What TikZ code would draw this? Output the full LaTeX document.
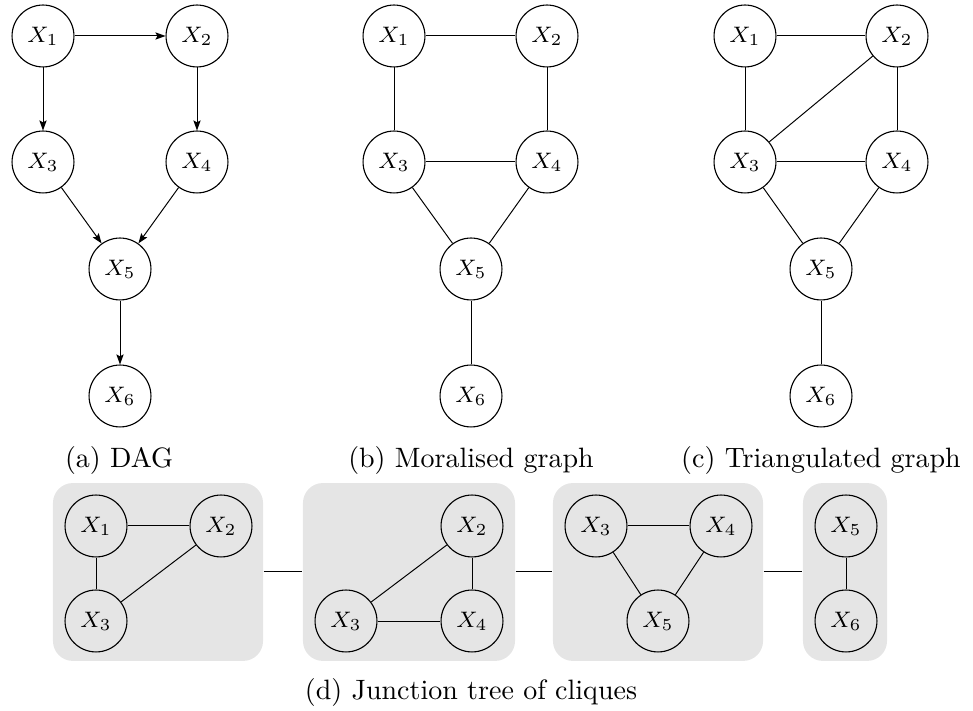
\documentclass[tikz,border=0pt]{standalone}
\usetikzlibrary{arrows.meta}
\begin{document}
\begin{tikzpicture}[x=0.357pt,y=-0.357pt,
  var/.style={circle,draw,line width=0.4pt,minimum size=22.1pt,inner sep=0pt,font=\fontsize{8.4}{10}\selectfont},
  edge/.style={line width=0.35pt},
  arr/.style={edge,-{Stealth[length=3.6pt,width=2.6pt,inset=0.7pt]}},
  clq/.style={rectangle,rounded corners=7.1pt,fill=black!10,draw=none,minimum height=63.5pt,inner sep=0pt},
  capt/.style={anchor=base,font=\fontsize{10}{12}\selectfont,inner sep=0pt}]
\useasboundingbox (0,0) rectangle (973,711);

% (a) DAG
\node[var] (a1) at (43,36) {$X_1$};
\node[var] (a2) at (197,36) {$X_2$};
\node[var] (a3) at (43,162) {$X_3$};
\node[var] (a4) at (197,162) {$X_4$};
\node[var] (a5) at (120,269) {$X_5$};
\node[var] (a6) at (120,396) {$X_6$};
\draw[arr] (a1) -- (a2);
\draw[arr] (a1) -- (a3);
\draw[arr] (a2) -- (a4);
\draw[arr] (a3) -- (a5);
\draw[arr] (a4) -- (a5);
\draw[arr] (a5) -- (a6);
\node[capt] (ca) at (119,468) {(a) DAG};

% (b) Moralised graph
\node[var] (b1) at (394,36) {$X_1$};
\node[var] (b2) at (547,36) {$X_2$};
\node[var] (b3) at (394,162) {$X_3$};
\node[var] (b4) at (547,162) {$X_4$};
\node[var] (b5) at (471,269) {$X_5$};
\node[var] (b6) at (471,396) {$X_6$};
\draw[edge] (b1) -- (b2);
\draw[edge] (b1) -- (b3);
\draw[edge] (b2) -- (b4);
\draw[edge] (b3) -- (b4);
\draw[edge] (b3) -- (b5);
\draw[edge] (b4) -- (b5);
\draw[edge] (b5) -- (b6);
\node[capt] (cb) at (471,468) {(b) Moralised graph};

% (c) Triangulated graph
\node[var] (c1) at (745,36) {$X_1$};
\node[var] (c2) at (897,36) {$X_2$};
\node[var] (c3) at (745,162) {$X_3$};
\node[var] (c4) at (897,162) {$X_4$};
\node[var] (c5) at (821,269) {$X_5$};
\node[var] (c6) at (821,396) {$X_6$};
\draw[edge] (c1) -- (c2);
\draw[edge] (c1) -- (c3);
\draw[edge] (c2) -- (c4);
\draw[edge] (c2) -- (c3);
\draw[edge] (c3) -- (c4);
\draw[edge] (c3) -- (c5);
\draw[edge] (c4) -- (c5);
\draw[edge] (c5) -- (c6);
\node[capt] (cc) at (821,468) {(c) Triangulated graph};

% (d) Junction tree
\node[clq,minimum width=75pt] (k1) at (158,572) {};
\node[clq,minimum width=75.7pt] (k2) at (409,572) {};
\node[clq,minimum width=75pt] (k3) at (658,572) {};
\node[clq,minimum width=30pt] (k4) at (845,572) {};
\draw[edge] (k1.east) -- (k2.west);
\draw[edge] (k2.east) -- (k3.west);
\draw[edge] (k3.east) -- (k4.west);

\node[var] (d11) at (96,526) {$X_1$};
\node[var] (d12) at (221,526) {$X_2$};
\node[var] (d13) at (96,621) {$X_3$};
\draw[edge] (d11) -- (d12);
\draw[edge] (d11) -- (d13);
\draw[edge] (d12) -- (d13);

\node[var] (d22) at (472,526) {$X_2$};
\node[var] (d23) at (346,621) {$X_3$};
\node[var] (d24) at (472,621) {$X_4$};
\draw[edge] (d22) -- (d23);
\draw[edge] (d22) -- (d24);
\draw[edge] (d23) -- (d24);

\node[var] (d33) at (596,526) {$X_3$};
\node[var] (d34) at (721,526) {$X_4$};
\node[var] (d35) at (658,621) {$X_5$};
\draw[edge] (d33) -- (d34);
\draw[edge] (d33) -- (d35);
\draw[edge] (d34) -- (d35);

\node[var] (d45) at (846,526) {$X_5$};
\node[var] (d46) at (846,621) {$X_6$};
\draw[edge] (d45) -- (d46);

\node[capt] (cd) at (471,700) {(d) Junction tree of cliques};
\end{tikzpicture}
\end{document}
